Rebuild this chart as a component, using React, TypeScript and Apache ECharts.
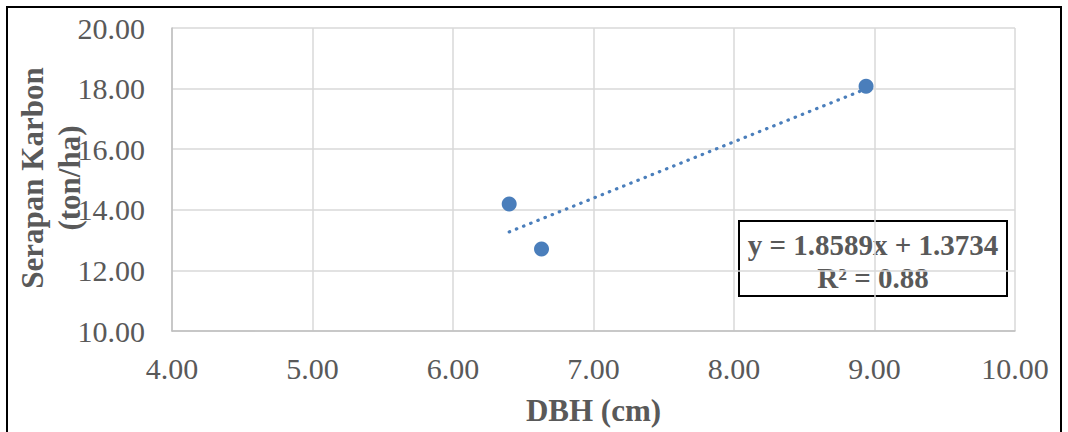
import React, { useEffect, useRef } from "react";
import * as echarts from "echarts";

const dbh = [6.4, 6.63, 8.94];
const carbon = [14.19, 12.71, 18.08];
const slope = 1.8589;
const intercept = 1.3734;
const equationLines = ["y = 1.8589x + 1.3734", "R² = 0.88"];
const xTitle = "DBH (cm)";
const yTitle = "Serapan Karbon\n(ton/ha)";

export default function App() {
  const ref = useRef<HTMLDivElement>(null);
  useEffect(() => {
    document.body.style.margin = "0";
    if (!ref.current) return;
    const chart = echarts.init(ref.current, null, { renderer: "svg" });
    const xMin = Math.min(...dbh);
    const xMax = Math.max(...dbh);
    const trend = [
      [xMin, slope * xMin + intercept],
      [xMax, slope * xMax + intercept],
    ];
    const font = "'Liberation Serif', 'Times New Roman', serif";
    chart.setOption({
      animation: false,
      backgroundColor: "#ffffff",
      grid: { left: 172, right: 53, top: 28, bottom: 101 },
      xAxis: {
        type: "value",
        min: 4,
        max: 10,
        interval: 1,
        name: xTitle,
        nameLocation: "middle",
        nameGap: 64,
        nameTextStyle: { fontFamily: font, fontSize: 31, fontWeight: "bold", color: "#595959" },
        axisLine: { show: true, lineStyle: { color: "#bfbfbf", width: 1.5 } },
        axisTick: { show: false },
        axisLabel: {
          formatter: (v: number) => v.toFixed(2),
          fontFamily: font,
          fontSize: 30,
          color: "#595959",
          margin: 22,
        },
        splitLine: { show: true, lineStyle: { color: "#d9d9d9", width: 1.5 } },
      },
      yAxis: {
        type: "value",
        min: 10,
        max: 20,
        interval: 2,
        axisLine: { show: true, lineStyle: { color: "#bfbfbf", width: 1.5 } },
        axisTick: { show: false },
        axisLabel: {
          formatter: (v: number) => v.toFixed(2),
          fontFamily: font,
          fontSize: 30,
          color: "#595959",
          margin: 27,
        },
        splitLine: { show: true, lineStyle: { color: "#d9d9d9", width: 1.5 } },
      },
      series: [
        {
          type: "line",
          data: trend,
          symbol: "none",
          lineStyle: { color: "#4a7ebb", width: 3.2, type: [0.5, 7.2], cap: "round" },
          z: 2,
        },
        {
          type: "scatter",
          data: dbh.map((x, i) => [x, carbon[i]]),
          symbol: "circle",
          symbolSize: 15,
          itemStyle: { color: "#4a7ebb", opacity: 1 },
          z: 3,
        },
      ],
      graphic: [
        {
          type: "rect",
          shape: { x: 7, y: 7, width: 1054, height: 440 },
          style: { fill: "none", stroke: "#000000", lineWidth: 2 },
          silent: true,
        },
        {
          type: "text",
          x: 51,
          y: 178,
          rotation: Math.PI / 2,
          style: {
            text: yTitle,
            fontFamily: font,
            fontSize: 31,
            fontWeight: "bold",
            fill: "#595959",
            align: "center",
            verticalAlign: "middle",
            lineHeight: 37,
          },
        },
        {
          type: "rect",
          shape: { x: 739, y: 221, width: 268, height: 75 },
          style: { fill: "none", stroke: "#000000", lineWidth: 2 },
          silent: true,
        },
        {
          type: "text",
          x: 873,
          y: 245,
          style: {
            text: equationLines[0],
            fontFamily: font,
            fontSize: 29,
            fontWeight: "bold",
            fill: "#595959",
            align: "center",
            verticalAlign: "middle",
          },
        },
        {
          type: "text",
          x: 873,
          y: 278,
          style: {
            text: equationLines[1],
            fontFamily: font,
            fontSize: 29,
            fontWeight: "bold",
            fill: "#595959",
            align: "center",
            verticalAlign: "middle",
          },
        },
      ],
    });
    return () => chart.dispose();
  }, []);
  return <div ref={ref} style={{ width: 1068, height: 432 }} />;
}
